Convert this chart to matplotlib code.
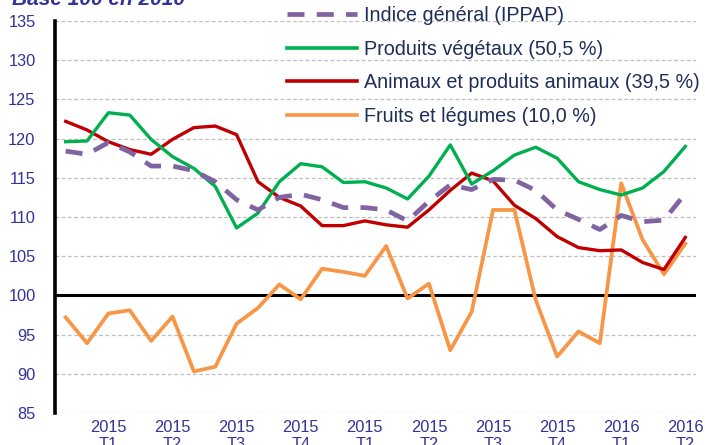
import numpy as np
import matplotlib
matplotlib.use("Agg")
import matplotlib.pyplot as plt
from matplotlib.lines import Line2D

plt.rcParams['font.family'] = ['Liberation Sans', 'DejaVu Sans']

# ---- data ----
tick_labels = ["2015\nT1", "2015\nT2", "2015\nT3", "2015\nT4", "2015\nT1",
               "2015\nT2", "2015\nT3", "2015\nT4", "2016\nT1", "2016\nT2"]
tick_positions = [2, 5, 8, 11, 14, 17, 20, 23, 26, 29]

indice_general = [118.4, 118.0, 119.5, 118.3, 116.5, 116.5, 115.9, 114.5, 112.2, 110.9,
                  112.5, 112.9, 112.2, 111.2, 111.2, 110.9, 109.5, 112.0, 114.1, 113.5,
                  114.8, 114.7, 113.4, 110.9, 109.7, 108.4, 110.2, 109.4, 109.6, 113.0]
produits_vegetaux = [119.6, 119.7, 123.3, 123.0, 119.9, 117.7, 116.2, 113.9, 108.6, 110.5,
                     114.5, 116.8, 116.4, 114.4, 114.5, 113.7, 112.3, 115.2, 119.2, 114.2,
                     115.9, 117.9, 118.9, 117.5, 114.5, 113.5, 112.8, 113.7, 115.8, 119.0]
animaux = [122.2, 121.1, 119.6, 118.6, 118.0, 119.9, 121.4, 121.6, 120.5, 114.5,
           112.5, 111.4, 108.9, 108.9, 109.5, 109.0, 108.7, 110.9, 113.4, 115.6,
           114.6, 111.5, 109.8, 107.5, 106.1, 105.7, 105.8, 104.2, 103.3, 107.4]
fruits_legumes = [97.2, 93.9, 97.7, 98.1, 94.2, 97.3, 90.3, 90.9, 96.4, 98.4,
                  101.4, 99.5, 103.4, 103.0, 102.5, 106.3, 99.6, 101.5, 93.0, 97.9,
                  110.9, 110.9, 99.4, 92.2, 95.4, 93.9, 114.3, 107.1, 102.7, 106.6]

labels = ["Indice général (IPPAP)", "Produits végétaux (50,5 %)",
          "Animaux et produits animaux (39,5 %)", "Fruits et légumes (10,0 %)"]

# ---- figure ----
W, H = 705, 445
fig = plt.figure(figsize=(W / 100, H / 100), dpi=100)
ax = fig.add_axes([55 / W, 1 - 413 / H, (696 - 55) / W, (413 - 21) / H])

x = np.arange(len(indice_general))
ax.plot(x, fruits_legumes, color='#F79646', lw=2.7, zorder=3)
ax.plot(x, animaux, color='#C00000', lw=2.4, zorder=4)
ax.plot(x, produits_vegetaux, color='#00B050', lw=2.4, zorder=5)
ax.plot(x, indice_general, color='#8064A2', lw=3.4, dashes=(3.6, 2.6), zorder=6)

ax.set_xlim(-0.5, len(x) - 0.5)
ax.set_ylim(85, 135)
ax.set_yticks(np.arange(85, 136, 5))
for v in np.arange(85, 136, 5):
    if v != 100:
        ax.axhline(v, color='#BFBFBF', lw=0.9, ls=(0, (3, 2)), zorder=1)
ax.axhline(100, color='black', lw=2.2, zorder=2)

ax.set_xticks(tick_positions)
ax.set_xticklabels(tick_labels)
ax.tick_params(axis='both', length=0, labelsize=11.8, labelcolor='#333399')
ax.tick_params(axis='x', pad=5)
ax.tick_params(axis='y', pad=14)

for s in ['top', 'right', 'bottom']:
    ax.spines[s].set_visible(False)
ax.spines['left'].set_linewidth(2.6)
ax.spines['left'].set_color('black')

# title (partly cut off at the top, as in the reference)
fig.text(12 / W, 1 - 5 / H, "Base 100 en 2010", color='#333399', fontsize=15,
         fontweight='bold', fontstyle='italic', va='baseline', ha='left')

# legend
handles = [
    Line2D([], [], color='#8064A2', lw=3.4, dashes=(3.6, 2.6)),
    Line2D([], [], color='#00B050', lw=2.6),
    Line2D([], [], color='#C00000', lw=2.6),
    Line2D([], [], color='#F79646', lw=2.6),
]
leg = fig.legend(handles, labels, loc='upper left',
                 bbox_to_anchor=(287 / W, 1 - 6 / H), frameon=False,
                 fontsize=14.2, handlelength=3.55, handletextpad=0.33,
                 labelspacing=0.74, borderpad=0, borderaxespad=0)
for t in leg.get_texts():
    t.set_color('#1F2D5A')

fig.savefig('out.png', dpi=100)
